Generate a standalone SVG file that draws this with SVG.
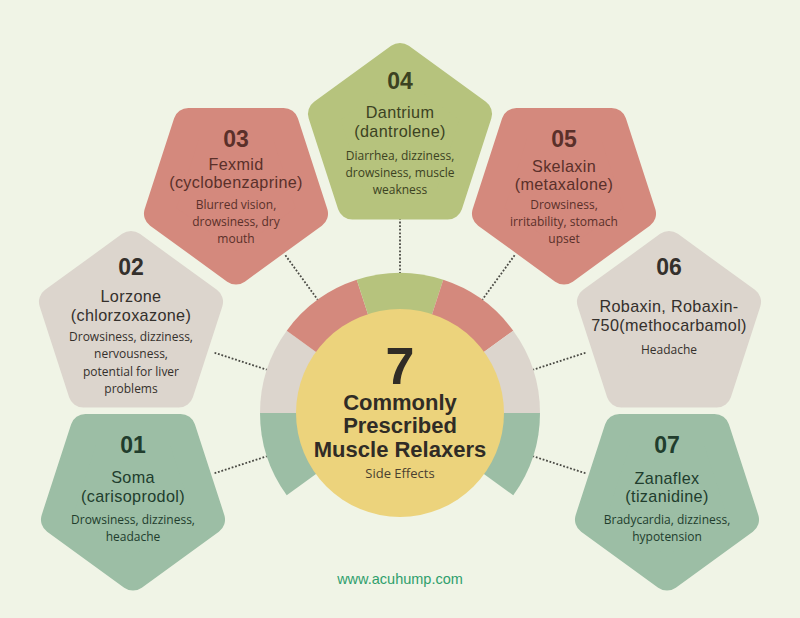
<svg xmlns="http://www.w3.org/2000/svg" xmlns:xlink="http://www.w3.org/1999/xlink" width="800" height="618" viewBox="0 0 800 618">
<defs>
<style>
.bg{fill:#f0f4e6}
.pent{stroke-width:30;stroke-linejoin:round}
.red{fill:#d4897d;stroke:#d4897d}
.olive{fill:#b6c37d;stroke:#b6c37d}
.beige{fill:#dcd5cd;stroke:#dcd5cd}
.teal{fill:#9cbea5;stroke:#9cbea5}
.seg-red{fill:#d4897d}
.seg-olive{fill:#b6c37d}
.seg-beige{fill:#dcd5cd}
.seg-teal{fill:#9cbea5}
.conn{stroke:#4a4a44;stroke-width:1.8;stroke-dasharray:1.8 1.8;fill:none}
text{text-anchor:middle}
.num{font-family:"Liberation Sans",Arial,sans-serif;font-weight:bold;font-size:23px}
.name{font-family:"Liberation Sans",Arial,sans-serif;font-size:16.2px;letter-spacing:0.35px}
.desc{font-family:"Open Sans","Noto Sans",sans-serif;font-size:12px}
.t-red{fill:#5a302a}
.t-olive{fill:#3c4222}
.t-beige{fill:#34302c}
.t-teal{fill:#213d2d}
.big{font-family:"Liberation Sans",Arial,sans-serif;font-weight:bold;fill:#302c26}
</style>
<polygon id="pu" class="pent" points="0,-81 77.04,-25.03 47.61,65.53 -47.61,65.53 -77.04,-25.03"/>
<polygon id="pd" class="pent" points="0,81 77.04,25.03 47.61,-65.53 -47.61,-65.53 -77.04,25.03"/>
</defs>
<rect class="bg" x="0" y="0" width="800" height="618"/>

<g id="connectors">
<line class="conn" x1="214.54" y1="473.26" x2="266.85" y2="456.26"/>
<line class="conn" x1="214.54" y1="352.74" x2="266.85" y2="369.74"/>
<line class="conn" x1="285.38" y1="255.24" x2="317.71" y2="299.74"/>
<line class="conn" x1="400" y1="218" x2="400" y2="273"/>
<line class="conn" x1="514.62" y1="255.24" x2="482.29" y2="299.74"/>
<line class="conn" x1="585.46" y1="352.74" x2="533.15" y2="369.74"/>
<line class="conn" x1="585.46" y1="473.26" x2="533.15" y2="456.26"/>
</g>

<g id="center">
<path class="seg-teal" d="M400,413 L286.74,495.29 A140,140 0 0 1 260,413 Z"/>
<path class="seg-beige" d="M400,413 L260,413 A140,140 0 0 1 286.74,330.71 Z"/>
<path class="seg-red" d="M400,413 L286.74,330.71 A140,140 0 0 1 356.74,279.85 Z"/>
<path class="seg-olive" d="M400,413 L356.74,279.85 A140,140 0 0 1 443.26,279.85 Z"/>
<path class="seg-red" d="M400,413 L443.26,279.85 A140,140 0 0 1 513.26,330.71 Z"/>
<path class="seg-beige" d="M400,413 L513.26,330.71 A140,140 0 0 1 540,413 Z"/>
<path class="seg-teal" d="M400,413 L540,413 A140,140 0 0 1 513.26,495.29 Z"/>
<circle cx="400" cy="413" r="104" fill="#ecd37c"/>
<text class="big" x="400" y="384" font-size="52">7</text>
<text class="big" x="400" y="409.5" font-size="22">Commonly</text>
<text class="big" x="400" y="433" font-size="22">Prescribed</text>
<text class="big" x="400" y="456.5" font-size="22">Muscle Relaxers</text>
<text x="400" y="478" font-family="'Open Sans','Noto Sans',sans-serif" font-size="13" fill="#4a4030">Side Effects</text>
</g>

<g id="node01">
<use xlink:href="#pd" class="teal" transform="translate(133,494.5)"/>
<text class="num t-teal" x="133" y="453">01</text>
<text class="name t-teal" x="133" y="483">Soma</text>
<text class="name t-teal" x="133" y="501.5">(carisoprodol)</text>
<text class="desc t-teal" x="133" y="524">Drowsiness, dizziness,</text>
<text class="desc t-teal" x="133" y="541">headache</text>
</g>

<g id="node02">
<use xlink:href="#pu" class="beige" transform="translate(131,327)"/>
<text class="num t-beige" x="131" y="275">02</text>
<text class="name t-beige" x="131" y="302">Lorzone</text>
<text class="name t-beige" x="131" y="320.5">(chlorzoxazone)</text>
<text class="desc t-beige" x="131" y="341">Drowsiness, dizziness,</text>
<text class="desc t-beige" x="131" y="358.3">nervousness,</text>
<text class="desc t-beige" x="131" y="375.6">potential for liver</text>
<text class="desc t-beige" x="131" y="393">problems</text>
</g>

<g id="node03">
<use xlink:href="#pd" class="red" transform="translate(236,188.5)"/>
<text class="num t-red" x="236" y="147">03</text>
<text class="name t-red" x="236" y="169.5">Fexmid</text>
<text class="name t-red" x="236" y="188">(cyclobenzaprine)</text>
<text class="desc t-red" x="236" y="208.5">Blurred vision,</text>
<text class="desc t-red" x="236" y="225.5">drowsiness, dry</text>
<text class="desc t-red" x="236" y="242.5">mouth</text>
</g>

<g id="node04">
<use xlink:href="#pu" class="olive" transform="translate(400,139)"/>
<text class="num t-olive" x="400" y="89">04</text>
<text class="name t-olive" x="400" y="117.5">Dantrium</text>
<text class="name t-olive" x="400" y="136.5">(dantrolene)</text>
<text class="desc t-olive" x="400" y="159.5">Diarrhea, dizziness,</text>
<text class="desc t-olive" x="400" y="176.5">drowsiness, muscle</text>
<text class="desc t-olive" x="400" y="193.5">weakness</text>
</g>

<g id="node05">
<use xlink:href="#pd" class="red" transform="translate(564,188.5)"/>
<text class="num t-red" x="564" y="147">05</text>
<text class="name t-red" x="564" y="171.5">Skelaxin</text>
<text class="name t-red" x="564" y="190">(metaxalone)</text>
<text class="desc t-red" x="564" y="208.5">Drowsiness,</text>
<text class="desc t-red" x="564" y="225.5">irritability, stomach</text>
<text class="desc t-red" x="564" y="242.5">upset</text>
</g>

<g id="node06">
<use xlink:href="#pu" class="beige" transform="translate(669,327)"/>
<text class="num t-beige" x="669" y="275">06</text>
<text class="name t-beige" x="669" y="312">Robaxin, Robaxin-</text>
<text class="name t-beige" x="669" y="331">750(methocarbamol)</text>
<text class="desc t-beige" x="669" y="354">Headache</text>
</g>

<g id="node07">
<use xlink:href="#pd" class="teal" transform="translate(667,494.5)"/>
<text class="num t-teal" x="667" y="453">07</text>
<text class="name t-teal" x="667" y="483.5">Zanaflex</text>
<text class="name t-teal" x="667" y="502">(tizanidine)</text>
<text class="desc t-teal" x="667" y="524">Bradycardia, dizziness,</text>
<text class="desc t-teal" x="667" y="541">hypotension</text>
</g>

<text x="400" y="584" font-family="'Liberation Sans',Arial,sans-serif" font-size="14.5" fill="#2f9f6c">www.acuhump.com</text>
</svg>
